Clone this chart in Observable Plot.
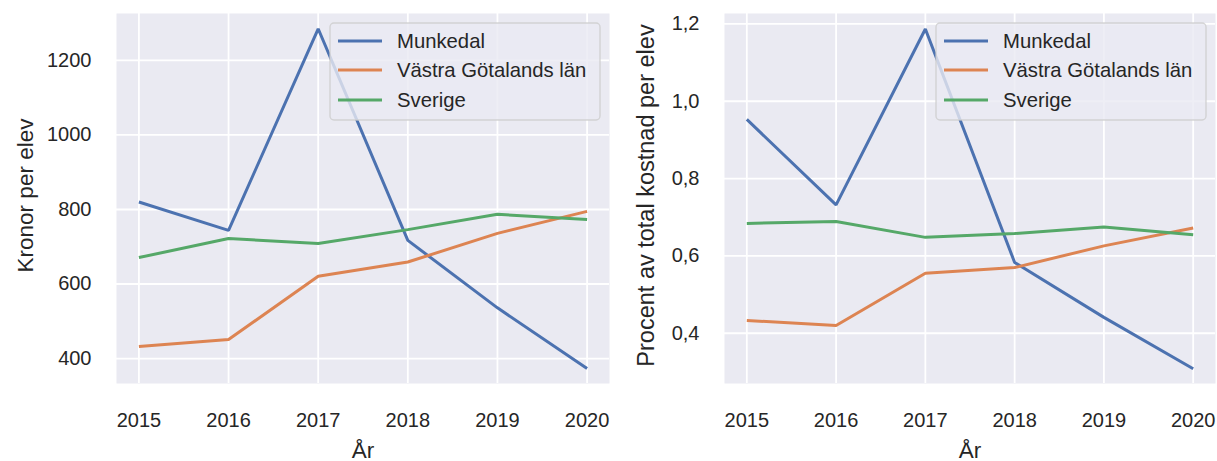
<!DOCTYPE html>
<html>
<head>
<meta charset="utf-8">
<script src="https://cdn.jsdelivr.net/npm/d3@7"></script>
<script src="https://cdn.jsdelivr.net/npm/@observablehq/plot@0.6"></script>
<style>
  html, body { margin: 0; padding: 0; background: #ffffff; }
  #wrap { display: flex; width: 1217px; height: 461px; overflow: hidden; }
  #wrap svg { display: block; }
</style>
</head>
<body>
<div id="wrap"></div>
<script>
// ---- data ----
const years = [2015, 2016, 2017, 2018, 2019, 2020];
const seriesNames = ["Munkedal", "Västra Götalands län", "Sverige"];
const seriesColors = ["#4c72b0", "#dd8452", "#55a868"];

const kronorMunkedal = [820, 744, 1285, 717, 536, 373];
const kronorVastra   = [432, 451, 621, 659, 736, 795];
const kronorSverige  = [671, 722, 709, 746, 787, 773];

const procentMunkedal = [0.953, 0.732, 1.187, 0.583, 0.441, 0.308];
const procentVastra   = [0.433, 0.420, 0.555, 0.570, 0.626, 0.672];
const procentSverige  = [0.684, 0.689, 0.648, 0.658, 0.675, 0.655];

const kronorTicks = [400, 600, 800, 1000, 1200];
const procentTicks = [0.4, 0.6, 0.8, 1.0, 1.2];

const xLabel = "År";
const kronorLabel = "Kronor per elev";
const procentLabel = "Procent av total kostnad per elev";

function toRows(lists) {
  const rows = [];
  lists.forEach((vals, i) => {
    vals.forEach((v, j) => rows.push({series: seriesNames[i], year: years[j], value: v}));
  });
  return rows;
}

const FONT = "'Liberation Sans', Arial, 'DejaVu Sans', sans-serif";
const TEXT = "#262626";

function panel({rows, width, marginLeft, marginRight, yDomain, yTicks, yFormat, yLabel, yLabelDx, yLabelSize}) {
  const svg = Plot.plot({
    width, height: 461,
    marginLeft, marginRight, marginTop: 13, marginBottom: 78,
    style: {background: "#ffffff", fontFamily: FONT, fontSize: "20px", color: TEXT, overflow: "visible"},
    x: {domain: [2014.75, 2020.25]},
    y: {domain: yDomain},
    color: {domain: seriesNames, range: seriesColors},
    marks: [
      Plot.frame({fill: "#eaeaf2", stroke: null}),
      Plot.gridX(years, {stroke: "#ffffff", strokeOpacity: 1, strokeWidth: 1.8}),
      Plot.gridY(yTicks, {stroke: "#ffffff", strokeOpacity: 1, strokeWidth: 1.8}),
      Plot.lineY(rows, {x: "year", y: "value", z: "series", stroke: "series", strokeWidth: 3, strokeLinejoin: "miter", strokeLinecap: "butt"}),
      Plot.axisX(years, {tickSize: 0, tickPadding: 29, tickFormat: d => String(d), label: null, fontSize: 20, fill: TEXT}),
      Plot.axisY(yTicks, {tickSize: 0, tickPadding: 25, tickFormat: yFormat, label: null, fontSize: 20, fill: TEXT}),
      Plot.text([xLabel], {frameAnchor: "bottom", textAnchor: "middle", dy: 74, fontSize: 22.5, fill: TEXT}),
      Plot.text([yLabel], {frameAnchor: "left", textAnchor: "middle", rotate: -90, dx: yLabelDx, dy: -3, fontSize: yLabelSize, fill: TEXT})
    ]
  });
  // legend (upper right, semi-transparent like matplotlib)
  const plotRight = width - marginRight;
  const boxW = 270, boxH = 97;
  const boxX = plotRight - 9 - boxW, boxY = 23;
  const g = d3.select(svg).append("g")
    .attr("font-family", FONT).attr("font-size", 20.3).attr("text-anchor", "start");
  g.append("rect")
    .attr("x", boxX).attr("y", boxY).attr("width", boxW).attr("height", boxH)
    .attr("rx", 4).attr("ry", 4)
    .attr("fill", "#eaeaf2").attr("fill-opacity", 0.8)
    .attr("stroke", "#cccccc").attr("stroke-opacity", 0.8).attr("stroke-width", 1.4);
  const rowY = [41, 70, 100];
  seriesNames.forEach((name, i) => {
    g.append("line")
      .attr("x1", boxX + 8).attr("x2", boxX + 52)
      .attr("y1", rowY[i]).attr("y2", rowY[i])
      .attr("stroke", seriesColors[i]).attr("stroke-width", 3);
    g.append("text")
      .attr("x", boxX + 67).attr("y", rowY[i] + 7)
      .attr("text-anchor", "start")
      .attr("fill", TEXT)
      .text(name);
  });
  return svg;
}

const wrap = document.getElementById("wrap");
wrap.appendChild(panel({
  rows: toRows([kronorMunkedal, kronorVastra, kronorSverige]),
  width: 615, marginLeft: 116, marginRight: 6,
  yDomain: [333, 1326], yTicks: kronorTicks,
  yFormat: d => String(d), yLabel: kronorLabel, yLabelDx: -91, yLabelSize: 22.5
}));
wrap.appendChild(panel({
  rows: toRows([procentMunkedal, procentVastra, procentSverige]),
  width: 602, marginLeft: 109, marginRight: 2,
  yDomain: [0.270, 1.227], yTicks: procentTicks,
  yFormat: d => d.toFixed(1).replace(".", ","), yLabel: procentLabel, yLabelDx: -78, yLabelSize: 23.5
}));
</script>
</body>
</html>
